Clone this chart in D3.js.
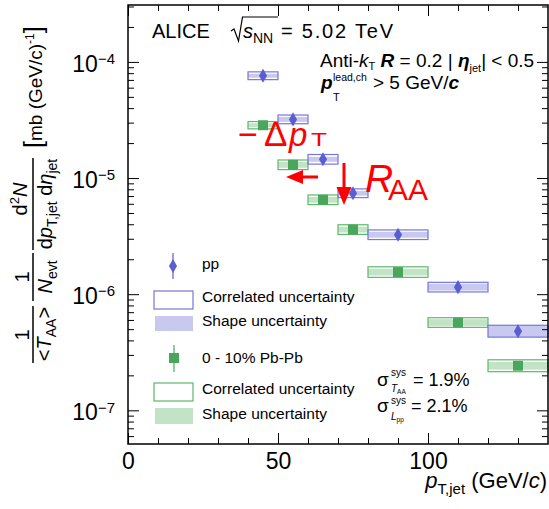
<!DOCTYPE html>
<html>
<head>
<meta charset="utf-8">
<script src="https://cdn.jsdelivr.net/npm/d3@7"></script>
<style>
  html, body { margin: 0; padding: 0; background: #fff; }
  svg { display: block; font-family: "Liberation Sans", Arial, Helvetica, sans-serif; }
</style>
</head>
<body>
<svg id="chart"></svg>
<script>
// jet pT bins (GeV/c)
const binLow = [40, 50, 60, 70, 80, 100, 120];
const binHigh = [50, 60, 70, 80, 100, 120, 140];

// pp reference, scaled by <TAA>
const ppYield = [7.6e-5, 3.2e-5, 1.45e-5, 7.4e-6, 3.25e-6, 1.15e-6, 4.8e-7];
const ppCorrUnc = [0.08, 0.09, 0.10, 0.09, 0.10, 0.10, 0.125];
const ppShapeUnc = [0.04, 0.05, 0.05, 0.05, 0.06, 0.07, 0.125];

// 0-10% Pb-Pb
const pbYield = [2.85e-5, 1.3e-5, 6.5e-6, 3.6e-6, 1.55e-6, 5.7e-7, 2.42e-7];
const pbCorrUnc = [0.075, 0.10, 0.10, 0.10, 0.11, 0.10, 0.125];
const pbShapeUnc = [0.04, 0.06, 0.06, 0.06, 0.07, 0.07, 0.08];

const xMajorTicks = [0, 50, 100];
const xMinorTicks = [10, 20, 30, 40, 60, 70, 80, 90, 110, 120, 130];
const yDecades = [-7, -6, -5, -4];

const colors = {
  ppMarker: "#5b5ed1", ppLine: "#7676db", ppFill: "#c9c9f0",
  pbMarker: "#4ba65d", pbLine: "#5db86a", pbFill: "#c3e3c7",
  red: "#ff0000",
};

const width = 549;
const height = 509;
const plotLeft = 128, plotRight = 548, plotTop = 5, plotBottom = 444;

const x = d3.scaleLinear([0, 140], [plotLeft, plotRight]);
const y = d3.scaleLog([Math.pow(10, -7.29), Math.pow(10, -3.51)], [plotBottom, plotTop]);

// minor log ticks 2..9 x 10^e inside the domain
let yMinorTicks = [];
for (let e = -8; e <= -4; e++) {
  for (let m = 2; m <= 9; m++) {
    const v = m * Math.pow(10, e);
    if (v > y.domain()[0] && v < y.domain()[1]) yMinorTicks.push(v);
  }
}
const yMajorTicks = yDecades.map(e => Math.pow(10, e));

const svg = d3.select("svg#chart")
  .attr("width", width)
  .attr("height", height)
  .attr("viewBox", [0, 0, width, height]);

// ---- data: boxes then markers
function drawSeries(yields, corr, shape, lineColor, fillColor) {
  const g = svg.append("g");
  yields.forEach((v, i) => {
    g.append("rect")
      .attr("x", x(binLow[i]))
      .attr("width", x(binHigh[i]) - x(binLow[i]))
      .attr("y", y(v * (1 + shape[i])))
      .attr("height", y(v / (1 + shape[i])) - y(v * (1 + shape[i])))
      .attr("fill", fillColor);
    g.append("rect")
      .attr("x", x(binLow[i]))
      .attr("width", x(binHigh[i]) - x(binLow[i]))
      .attr("y", y(v * (1 + corr[i])))
      .attr("height", y(v / (1 + corr[i])) - y(v * (1 + corr[i])))
      .attr("fill", "none")
      .attr("stroke", lineColor)
      .attr("stroke-width", 1.2);
  });
  return g;
}

drawSeries(pbYield, pbCorrUnc, pbShapeUnc, colors.pbLine, colors.pbFill);
drawSeries(ppYield, ppCorrUnc, ppShapeUnc, colors.ppLine, colors.ppFill);

const diamond = d3.symbol(d3.symbolDiamond, 57);
const square = d3.symbol(d3.symbolSquare, 100);

svg.append("g").selectAll("path")
  .data(pbYield)
  .join("path")
  .attr("transform", (d, i) => `translate(${x((binLow[i] + binHigh[i]) / 2)},${y(d)})`)
  .attr("d", square)
  .attr("fill", colors.pbMarker);

svg.append("g").selectAll("path")
  .data(ppYield)
  .join("path")
  .attr("transform", (d, i) => `translate(${x((binLow[i] + binHigh[i]) / 2)},${y(d)})`)
  .attr("d", diamond)
  .attr("fill", colors.ppMarker);

// ---- axes (ticks inward on all four sides)
function styleAxis(g) {
  g.select(".domain").remove();
  g.selectAll(".tick line").attr("stroke", "#000");
}

svg.append("g")
  .attr("transform", `translate(0,${plotBottom})`)
  .call(d3.axisBottom(x).tickValues(xMinorTicks).tickSize(-6).tickFormat(""))
  .call(styleAxis);
svg.append("g")
  .attr("transform", `translate(0,${plotBottom})`)
  .call(d3.axisBottom(x).tickValues(xMajorTicks).tickSize(-11).tickPadding(9))
  .call(styleAxis)
  .call(g => g.selectAll(".tick text")
    .attr("fill", "#000")
    .attr("font-size", "23px")
    .attr("font-family", "Liberation Sans, Arial, sans-serif"));

svg.append("g")
  .attr("transform", `translate(0,${plotTop})`)
  .call(d3.axisTop(x).tickValues(xMinorTicks).tickSize(-6).tickFormat(""))
  .call(styleAxis);
svg.append("g")
  .attr("transform", `translate(0,${plotTop})`)
  .call(d3.axisTop(x).tickValues(xMajorTicks).tickSize(-11).tickFormat(""))
  .call(styleAxis);

svg.append("g")
  .attr("transform", `translate(${plotLeft},0)`)
  .call(d3.axisLeft(y).tickValues(yMinorTicks).tickSize(-6).tickFormat(""))
  .call(styleAxis);
svg.append("g")
  .attr("transform", `translate(${plotLeft},0)`)
  .call(d3.axisLeft(y).tickValues(yMajorTicks).tickSize(-11).tickPadding(13))
  .call(styleAxis)
  .call(g => g.selectAll(".tick text").each(function (d) {
    const t = d3.select(this)
      .attr("fill", "#000")
      .attr("dy", "0.4em")
      .attr("font-family", "Liberation Sans, Arial, sans-serif")
      .attr("font-size", "23px");
    const e = Math.round(Math.log10(d));
    t.text(null);
    t.append("tspan").text("10");
    t.append("tspan").attr("dy", "-0.5em").attr("font-size", "15px").text("\u2212" + Math.abs(e));
  }));

svg.append("g")
  .attr("transform", `translate(${plotRight},0)`)
  .call(d3.axisRight(y).tickValues(yMinorTicks).tickSize(-6).tickFormat(""))
  .call(styleAxis);
svg.append("g")
  .attr("transform", `translate(${plotRight},0)`)
  .call(d3.axisRight(y).tickValues(yMajorTicks).tickSize(-11).tickFormat(""))
  .call(styleAxis);

// frame
svg.append("rect")
  .attr("x", plotLeft).attr("y", plotTop)
  .attr("width", plotRight - plotLeft).attr("height", plotBottom - plotTop)
  .attr("fill", "none").attr("stroke", "#000").attr("stroke-width", 1.5);

// ---- x axis title
const xt = svg.append("text")
  .attr("x", 547).attr("y", 488)
  .attr("text-anchor", "end")
  .attr("font-size", "22px");
xt.append("tspan").attr("font-style", "italic").text("p");
xt.append("tspan").attr("font-size", "15px").attr("dy", 6).text("T,jet");
xt.append("tspan").attr("dy", -6).text(" (GeV/");
xt.append("tspan").attr("font-style", "italic").text("c");
xt.append("tspan").text(")");

// ---- y axis title (rotated pieces)
function rotText(px, py, anchor) {
  return svg.append("text")
    .attr("transform", `translate(${px},${py}) rotate(-90)`)
    .attr("text-anchor", anchor)
    .attr("font-size", "20px");
}
function fracLine(px, y0, y1) {
  svg.append("line")
    .attr("x1", px).attr("x2", px).attr("y1", y0).attr("y2", y1)
    .attr("stroke", "#000").attr("stroke-width", 1.5);
}

rotText(29, 335, "middle").text("1");
fracLine(33, 306, 363);
let t1 = rotText(51, 334, "middle");
t1.append("tspan").text("<");
t1.append("tspan").attr("font-style", "italic").text("T");
t1.append("tspan").attr("font-size", "14px").attr("dy", 5).text("AA");
t1.append("tspan").attr("dy", -5).text(">");

rotText(29, 277, "middle").text("1");
fracLine(33, 253, 301);
let t2 = rotText(52, 277, "middle");
t2.append("tspan").attr("font-style", "italic").text("N");
t2.append("tspan").attr("font-size", "14px").attr("dy", 5).text("evt");

let t3 = rotText(27, 199, "middle");
t3.append("tspan").text("d");
t3.append("tspan").attr("font-size", "13px").attr("dy", -8).text("2");
t3.append("tspan").attr("font-style", "italic").attr("dy", 8).text("N");
fracLine(33, 158, 250);
let t4 = rotText(52, 204, "middle");
t4.append("tspan").text("d");
t4.append("tspan").attr("font-style", "italic").text("p");
t4.append("tspan").attr("font-size", "14px").attr("dy", 5).text("T,jet");
t4.append("tspan").attr("dy", -5).text(" d");
t4.append("tspan").attr("font-style", "italic").text("\u03b7");
t4.append("tspan").attr("font-size", "14px").attr("dy", 5).text("jet");

let t5 = rotText(42, 148, "start").attr("font-size", "19px");
t5.append("tspan").attr("font-size", "25px").text("[");
t5.append("tspan").text("mb (GeV/c)");
t5.append("tspan").attr("font-size", "12px").attr("dy", -8).text("-1");
t5.append("tspan").attr("font-size", "25px").attr("dy", 8).text("]");

// ---- header texts
svg.append("text").attr("x", 152).attr("y", 38).attr("font-size", "20px").text("ALICE");
svg.append("path")
  .attr("d", "M231,31 L234,29 L238.5,41 L242.5,17 L278,17")
  .attr("fill", "none").attr("stroke", "#000").attr("stroke-width", 1.2);
let hs = svg.append("text").attr("x", 243).attr("y", 38).attr("font-size", "20px");
hs.append("tspan").attr("font-style", "italic").text("s");
hs.append("tspan").attr("font-size", "14px").attr("dy", 5).text("NN");
svg.append("text").attr("x", 281).attr("y", 38).attr("font-size", "20px")
  .attr("textLength", 112).attr("lengthAdjust", "spacing").text("= 5.02 TeV");

let l1 = svg.append("text").attr("x", 320).attr("y", 67).attr("font-size", "19px");
l1.append("tspan").text("Anti-");
l1.append("tspan").attr("font-style", "italic").text("k");
l1.append("tspan").attr("font-size", "11px").attr("dy", 3).text("T");
l1.append("tspan").attr("dy", -3).text(" ");
l1.append("tspan").attr("font-style", "italic").attr("font-weight", "bold").text("R");
l1.append("tspan").text(" = 0.2  | ");
l1.append("tspan").attr("font-style", "italic").attr("font-weight", "bold").text("\u03b7");
l1.append("tspan").attr("font-size", "11px").attr("dy", 5).text("jet");
l1.append("tspan").attr("dy", -5).text("| < 0.5");

svg.append("text").attr("x", 321).attr("y", 89).attr("font-size", "19px")
  .attr("font-style", "italic").attr("font-weight", "bold").text("p");
svg.append("text").attr("x", 333).attr("y", 81).attr("font-size", "10.5px").text("lead,ch");
svg.append("text").attr("x", 333).attr("y", 101).attr("font-size", "11px").text("T");
let l2 = svg.append("text").attr("x", 373).attr("y", 89).attr("font-size", "19px");
l2.append("tspan").text("> 5 GeV/");
l2.append("tspan").attr("font-style", "italic").attr("font-weight", "bold").text("c");

// ---- legend
const legendX = 202;
svg.append("line").attr("x1", 173).attr("x2", 173).attr("y1", 253).attr("y2", 279)
  .attr("stroke", colors.ppMarker).attr("stroke-width", 1.2);
svg.append("path").attr("transform", "translate(173,266)").attr("d", diamond).attr("fill", colors.ppMarker);
svg.append("rect").attr("x", 154).attr("y", 291).attr("width", 39).attr("height", 18)
  .attr("fill", "none").attr("stroke", colors.ppLine).attr("stroke-width", 1.2);
svg.append("rect").attr("x", 155).attr("y", 316).attr("width", 38).attr("height", 15)
  .attr("fill", colors.ppFill);

svg.append("line").attr("x1", 174).attr("x2", 174).attr("y1", 345).attr("y2", 372)
  .attr("stroke", colors.pbMarker).attr("stroke-width", 1.2);
svg.append("path").attr("transform", "translate(174,358)").attr("d", square).attr("fill", colors.pbMarker);
svg.append("rect").attr("x", 154).attr("y", 383).attr("width", 39).attr("height", 18)
  .attr("fill", "none").attr("stroke", colors.pbLine).attr("stroke-width", 1.2);
svg.append("rect").attr("x", 155).attr("y", 408).attr("width", 38).attr("height", 16)
  .attr("fill", colors.pbFill);

const legendLabels = ["pp", "Correlated uncertainty", "Shape uncertainty",
  "0 - 10% Pb-Pb", "Correlated uncertainty", "Shape uncertainty"];
const legendBaselines = [269, 302, 326, 363, 394, 419];
legendLabels.forEach((s, i) => {
  svg.append("text").attr("x", legendX).attr("y", legendBaselines[i])
    .attr("font-size", "15.5px").text(s);
});

// sigma notes
svg.append("text").attr("x", 377).attr("y", 386).attr("font-size", "19px").text("\u03c3");
svg.append("text").attr("x", 391).attr("y", 376).attr("font-size", "10px").text("sys");
let s1 = svg.append("text").attr("x", 391).attr("y", 392).attr("font-size", "10px");
s1.append("tspan").attr("font-style", "italic").text("T");
s1.append("tspan").attr("font-size", "6.5px").attr("dy", 2).text("AA");
svg.append("text").attr("x", 413).attr("y", 386).attr("font-size", "18px").text("= 1.9%");

svg.append("text").attr("x", 377).attr("y", 412).attr("font-size", "19px").text("\u03c3");
svg.append("text").attr("x", 391).attr("y", 404).attr("font-size", "10px").text("sys");
let s2 = svg.append("text").attr("x", 391).attr("y", 420).attr("font-size", "10px");
s2.append("tspan").attr("font-style", "italic").text("L");
s2.append("tspan").attr("font-size", "6.5px").attr("dy", 2).text("pp");
svg.append("text").attr("x", 411).attr("y", 412).attr("font-size", "18px").text("= 2.1%");

// ---- red annotations
const red = svg.append("g").attr("fill", colors.red);
red.append("text").attr("x", 238).attr("y", 146).attr("font-size", "34px").text("\u2212");
red.append("text").attr("x", 264).attr("y", 146).attr("font-size", "35px").text("\u0394");
red.append("text").attr("x", 289).attr("y", 146).attr("font-size", "33px")
  .attr("font-style", "italic").text("p");
red.append("text").attr("transform", "translate(311,146) scale(1.45,1)")
  .attr("font-size", "18px").text("T");

red.append("line").attr("x1", 318).attr("x2", 300).attr("y1", 177).attr("y2", 177)
  .attr("stroke", colors.red).attr("stroke-width", 3);
red.append("path").attr("d", "M286,177 L303,170 L303,184 Z");

red.append("line").attr("x1", 344).attr("x2", 344).attr("y1", 163).attr("y2", 190)
  .attr("stroke", colors.red).attr("stroke-width", 3);
red.append("path").attr("d", "M344,205 L336.5,187 L351.5,187 Z");

red.append("text").attr("x", 365).attr("y", 192).attr("font-size", "39px")
  .attr("font-style", "italic").text("R");
red.append("text").attr("x", 388).attr("y", 200).attr("font-size", "30px").text("AA");
</script>
</body>
</html>
